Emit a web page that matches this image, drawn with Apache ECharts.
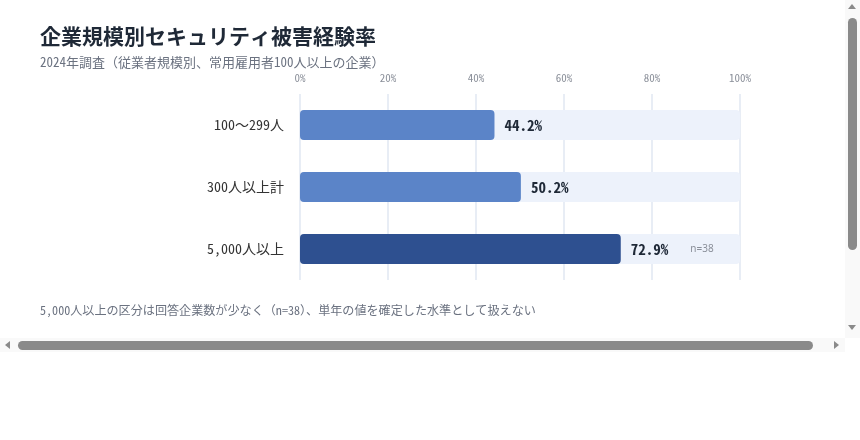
<!DOCTYPE html>
<html><head><meta charset="utf-8">
<script src="https://cdn.jsdelivr.net/npm/echarts@6/dist/echarts.min.js"></script>
<style>
html,body{margin:0;padding:0;background:#fff;overflow:hidden;}
#wrap{position:relative;width:860px;height:352px;overflow:hidden;}
#chart{position:absolute;left:0;top:0;width:870px;height:450px;}
.track{position:absolute;background:#f9f9f9;}
.thumb{position:absolute;background:#8a8a8a;border-radius:5px;}
.arr{position:absolute;width:0;height:0;border-style:solid;}
</style></head>
<body>
<div id="wrap">
  <div id="chart"></div>
  <div class="track" style="left:845px;top:0;width:15px;height:338px;"></div>
  <div class="thumb" style="left:848px;top:18px;width:9px;height:232px;"></div>
  <div class="arr" style="left:848px;top:4px;border-width:0 4.5px 5px 4.5px;border-color:transparent transparent #8a8a8a transparent;"></div>
  <div class="arr" style="left:848px;top:325px;border-width:5px 4.5px 0 4.5px;border-color:#8a8a8a transparent transparent transparent;"></div>
  <div class="track" style="left:0;top:338px;width:845px;height:15px;"></div>
  <div class="thumb" style="left:18px;top:341px;width:795px;height:9px;"></div>
  <div class="arr" style="left:5px;top:341px;border-width:4.5px 5px 4.5px 0;border-color:transparent #8a8a8a transparent transparent;"></div>
  <div class="arr" style="left:834px;top:341px;border-width:4.5px 0 4.5px 5px;border-color:transparent transparent transparent #8a8a8a;"></div>
  <div class="track" style="left:845px;top:338px;width:15px;height:15px;background:#fff;"></div>
</div>
<script>
const categories = ['100〜299人', '300人以上計', '5,000人以上'];
const values = [44.2, 50.2, 72.9];
const notes = ['', '', 'n=38'];
const tickMax = 100;
const tickStep = 20;
const titleText = '企業規模別セキュリティ被害経験率';
const subText = '2024年調査（従業者規模別、常用雇用者100人以上の企業）';
const footText = '5,000人以上の区分は回答企業数が少なく（n=38）、単年の値を確定した水準として扱えない';

const mono = "'Noto Sans Mono CJK JP', 'Noto Sans CJK JP', monospace";
const chart = echarts.init(document.getElementById('chart'));
chart.setOption({
  animation: false,
  title: [
    { text: titleText, left: 35, top: 21,
      textStyle: { fontSize: 21, fontWeight: 'bold', color: '#1f2937', fontFamily: "'Noto Sans CJK JP', sans-serif" } },
    { text: subText, left: 35, top: 51,
      textStyle: { fontSize: 13, fontWeight: 'normal', color: '#6b7280', fontFamily: mono } },
    { text: footText, left: 35, top: 299,
      textStyle: { fontSize: 12.1, fontWeight: 'normal', color: '#6b7280', fontFamily: mono } }
  ],
  grid: { left: 300, right: 130, top: 94, height: 186 },
  xAxis: {
    type: 'value', position: 'top', min: 0, max: tickMax, interval: tickStep,
    axisLine: { show: false }, axisTick: { show: false },
    axisLabel: { formatter: '{value}%', color: '#8a8f99', fontSize: 11, fontFamily: mono, margin: 11 },
    splitLine: { lineStyle: { color: '#e8edf5', width: 2 } }
  },
  yAxis: {
    type: 'category', data: categories, inverse: true,
    axisLine: { show: false }, axisTick: { show: false },
    axisLabel: { color: '#333', fontSize: 14, fontFamily: mono, margin: 16 }
  },
  series: [{
    type: 'bar', barWidth: 30,
    data: values.map((v, i) => ({
      value: v,
      itemStyle: { color: i === 2 ? '#2e5090' : '#5b84c8' }
    })),
    showBackground: true,
    backgroundStyle: { color: '#edf2fb', borderRadius: 4 },
    itemStyle: { borderRadius: 4 },
    label: {
      show: true, position: 'right', distance: 10,
      formatter: p => notes[p.dataIndex] ? '{v|' + p.value + '%}{n|' + notes[p.dataIndex] + '}' : '{v|' + p.value + '%}',
      rich: {
        v: { fontSize: 15, fontWeight: 'bold', color: '#1f2937', fontFamily: mono },
        n: { fontSize: 10, color: '#8a8f99', padding: [0, 0, 0, 22], fontFamily: "'Noto Sans', sans-serif" }
      }
    }
  }]
});
</script>
</body></html>
